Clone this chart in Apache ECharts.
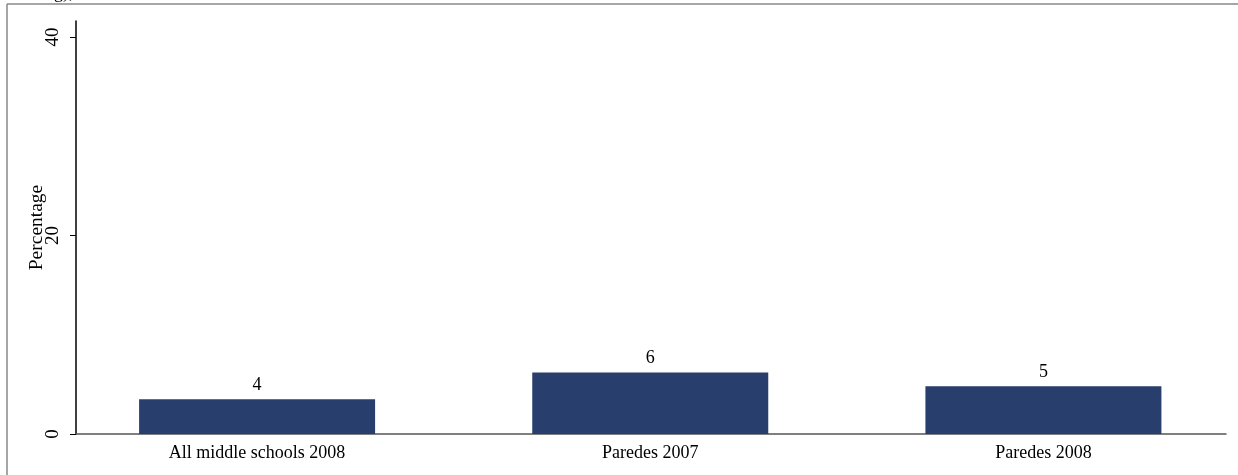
<!DOCTYPE html>
<html>
<head>
<meta charset="utf-8">
<script src="https://cdn.jsdelivr.net/npm/echarts@6/dist/echarts.min.js"></script>
<style>
  html, body { margin: 0; padding: 0; background: #fff; }
  #main { width: 1238px; height: 475px; }
</style>
</head>
<body>
<div id="main"></div>
<script>
// categories and values
var categories = ["All middle schools 2008", "Paredes 2007", "Paredes 2008"];
var percentages = [3.5, 6.2, 4.8];
var yTicks = [0, 20, 40];

var font = "Liberation Serif";
var myChart = echarts.init(document.getElementById("main"));

var option = {
  animation: false,
  grid: { left: 76, right: 12, top: 21, bottom: 41 },
  xAxis: {
    type: "value",
    min: -0.4606,
    max: 2.4644,
    axisLine: { show: true, onZero: false, lineStyle: { color: "#555", width: 1.5 } },
    axisTick: { show: false },
    splitLine: { show: false },
    axisLabel: {
      customValues: [0, 1, 2],
      formatter: function (v) { return categories[Math.round(v)] || ""; },
      fontFamily: font, fontSize: 18, color: "#000", margin: 10
    }
  },
  yAxis: {
    type: "value",
    min: 0,
    max: 41.6,
    name: "Percentage",
    nameLocation: "middle",
    nameGap: 29,
    nameMoveOverlap: false,
    nameTextStyle: { fontFamily: font, fontSize: 19.5, color: "#000" },
    axisLine: { show: true, onZero: false, lineStyle: { color: "#000", width: 1.5 } },
    axisTick: { show: true, customValues: yTicks, length: 6, lineStyle: { color: "#000" } },
    splitLine: { show: false },
    axisLabel: {
      customValues: yTicks,
      rotate: 90,
      fontFamily: font, fontSize: 19, color: "#000", margin: 13
    }
  },
  series: [{
    type: "bar",
    barWidth: 236,
    data: percentages.map(function (v, i) { return [i, v]; }),
    itemStyle: { color: "#283f6e" },
    label: {
      show: true,
      position: "top",
      distance: 5,
      fontFamily: font, fontSize: 18, color: "#000",
      formatter: function (p) { return Math.round(p.value[1]); }
    }
  }],
  graphic: [
    // outer frame (top and left edge visible)
    { type: "line", shape: { x1: 7, y1: 4, x2: 1238, y2: 4 }, style: { stroke: "#888", lineWidth: 1.5 } },
    { type: "line", shape: { x1: 7, y1: 4, x2: 7, y2: 475 }, style: { stroke: "#888", lineWidth: 1.5 } },
    // cut-off caption text at the top
    { type: "text", left: 40, top: -16, style: { text: "ing),", font: "18px 'Liberation Serif'", fill: "#000" } }
  ]
};

myChart.setOption(option);
</script>
</body>
</html>
